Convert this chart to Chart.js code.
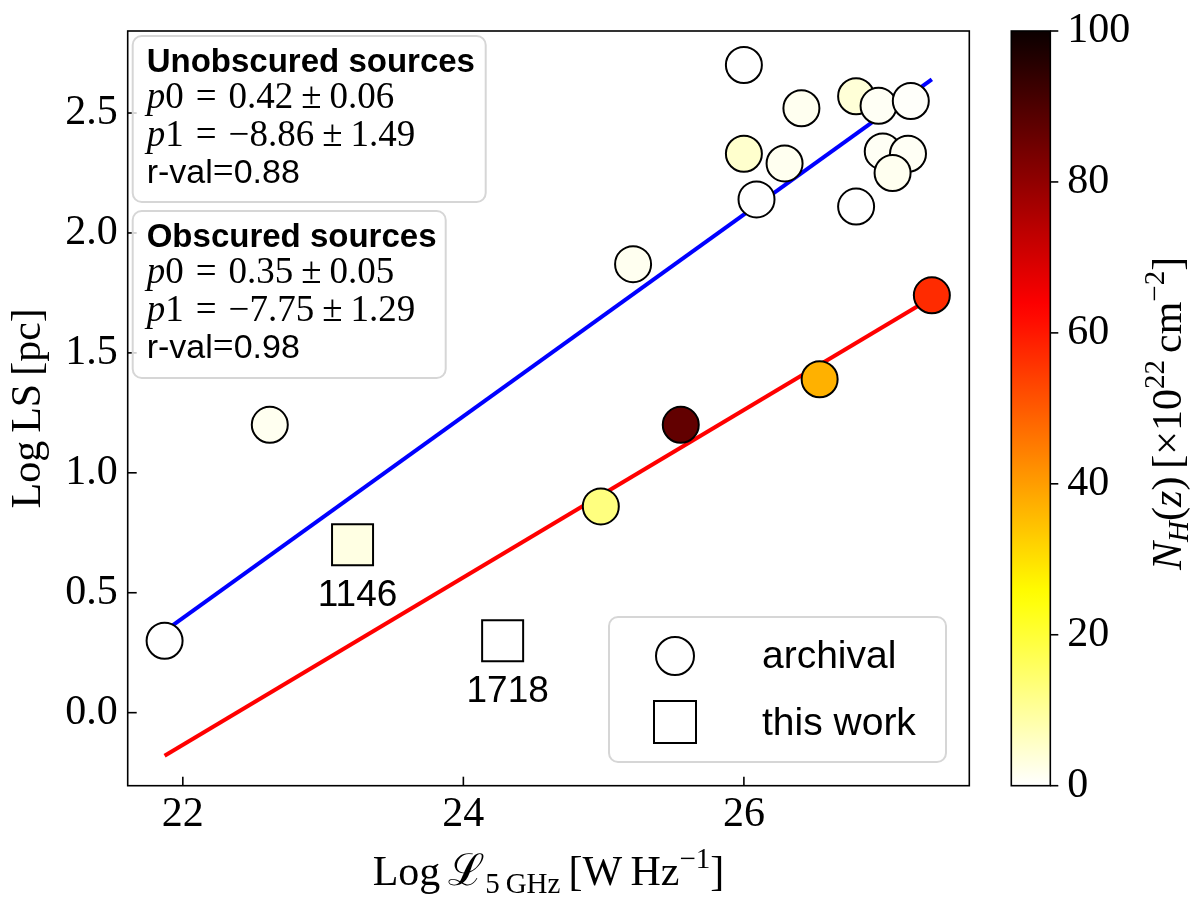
<!DOCTYPE html>
<html>
<head>
<meta charset="utf-8">
<script src="https://cdn.jsdelivr.net/npm/chart.js@4.4.0/dist/chart.umd.min.js"></script>
<style>
  body { margin: 0; background: #fff; }
  canvas { display: block; }
</style>
</head>
<body>
<canvas id="lsChart" width="1200" height="905"></canvas>
<script>
// archival sources: luminosity, linear size, column density
const archivalX  = [26.00, 26.41, 26.80, 26.96, 27.19, 26.00, 26.29, 26.09, 26.99, 27.17, 27.06, 26.80, 25.21, 27.34, 22.62, 21.87, 24.98, 25.55, 26.54];
const archivalY  = [2.70, 2.52, 2.57, 2.53, 2.55, 2.33, 2.29, 2.14, 2.34, 2.33, 2.25, 2.11, 1.87, 1.74, 1.20, 0.30, 0.86, 1.20, 1.39];
const archivalNH = [0, 1.5, 4, 1, 0.5, 5, 1.5, 0, 1, 1, 1.5, 0, 1.5, 57, 1.5, 0, 12.7, 87, 37];

// this work
const workX = [23.21, 24.28];
const workY = [0.70, 0.30];
const workNH = [2.8, 0];
const workLabels = ['1146', '1718'];

// linear fits
const fitX = [21.87, 27.34];
const unobsFitY = [0.34, 2.64];
const obsFitY = [-0.18, 1.73];

const unobsText = ['Unobscured sources', ['0.42', '0.06'], ['\u22128.86', '1.49'], '0.88'];
const obsText = ['Obscured sources', ['0.35', '0.05'], ['\u22127.75', '1.29'], '0.98'];

const xTicks = [22, 24, 26];
const yTicks = [0, 0.5, 1, 1.5, 2, 2.5];
const cbTicks = [0, 20, 40, 60, 80, 100];

// matplotlib hot_r
function hotR(v) {
    const x = 1 - v / 100;
    const r = x < 0.365079 ? 0.0416 + (1 - 0.0416) * x / 0.365079 : 1;
    const g = x < 0.365079 ? 0 : (x < 0.746032 ? (x - 0.365079) / (0.746032 - 0.365079) : 1);
    const b = x < 0.746032 ? 0 : (x - 0.746032) / (1 - 0.746032);
    return 'rgb(' + Math.round(r * 255) + ',' + Math.round(g * 255) + ',' + Math.round(b * 255) + ')';
}

const SERIF = "'Liberation Serif', 'DejaVu Serif', serif";
const SANS = "'Liberation Sans', 'DejaVu Sans', sans-serif";

function drawRich(ctx, x, y, parts) {
    parts.forEach(p => {
        ctx.font = p.f;
        x += p.gap || 0;
        ctx.fillText(p.t, x, y + (p.dy || 0));
        x += ctx.measureText(p.t).width;
    });
    return x;
}
function richWidth(ctx, parts) {
    let w = 0;
    parts.forEach(p => {
        ctx.font = p.f;
        w += (p.gap || 0) + ctx.measureText(p.t).width;
    });
    return w;
}

function roundBox(ctx, x, y, w, h, r) {
    ctx.beginPath();
    ctx.moveTo(x + r, y);
    ctx.arcTo(x + w, y, x + w, y + h, r);
    ctx.arcTo(x + w, y + h, x, y + h, r);
    ctx.arcTo(x, y + h, x, y, r);
    ctx.arcTo(x, y, x + w, y, r);
    ctx.closePath();
    ctx.fillStyle = 'rgba(255,255,255,0.8)';
    ctx.fill();
    ctx.strokeStyle = '#d6d6d6';
    ctx.lineWidth = 2;
    ctx.stroke();
}

function fitBox(ctx, left, top, w, h, lines) {
    roundBox(ctx, left, top, w, h, 9);
    ctx.fillStyle = '#000';
    ctx.textBaseline = 'alphabetic';
    ctx.textAlign = 'left';
    const tx = left + 14;
    ctx.font = 'bold 33px ' + SANS;
    ctx.fillText(lines[0], tx, top + 36);
    const mf = '37px ' + SERIF;
    ['0', '1'].forEach((n, i) => {
        drawRich(ctx, tx, top + 72 + i * 37.5, [
            { t: 'p', f: 'italic ' + mf },
            { t: n, f: mf },
            { t: '=', f: mf, gap: 12 },
            { t: lines[1 + i][0], f: mf, gap: 12 },
            { t: '\u00b1', f: mf, gap: 8 },
            { t: lines[1 + i][1], f: mf, gap: 8 }
        ]);
    });
    drawRich(ctx, tx, top + 147, [
        { t: 'r-val', f: '34px ' + SANS },
        { t: '=', f: mf },
        { t: lines[3], f: '34px ' + SANS }
    ]);
}

function noPad(s) {
    s.paddingTop = 0;
    s.paddingBottom = 0;
    s.paddingLeft = 0;
    s.paddingRight = 0;
}

const decorPlugin = {
    id: 'decor',
    beforeDatasetsDraw(chart) {
        const ctx = chart.ctx;
        const a = chart.chartArea;
        const cb = chart.scales.cb;
        ctx.save();
        // colorbar
        const cbL = a.right + 42, cbW = 39;
        const yTop = cb.getPixelForValue(100), yBot = cb.getPixelForValue(0);
        const grad = ctx.createLinearGradient(0, yBot, 0, yTop);
        for (let i = 0; i <= 50; i++) grad.addColorStop(i / 50, hotR(i * 2));
        ctx.fillStyle = grad;
        ctx.fillRect(cbL, yTop, cbW, yBot - yTop);
        ctx.strokeStyle = '#000';
        ctx.lineWidth = 1.6;
        ctx.strokeRect(cbL, yTop, cbW, yBot - yTop);
        cbTicks.forEach(v => {
            const y = cb.getPixelForValue(v);
            ctx.beginPath();
            ctx.moveTo(cbL + cbW, y);
            ctx.lineTo(cbL + cbW + 8, y);
            ctx.stroke();
        });
        // colorbar title
        ctx.fillStyle = '#000';
        ctx.save();
        ctx.translate(1181, (yTop + yBot) / 2 + 5);
        ctx.rotate(-Math.PI / 2);
        const cbParts = [
            { t: 'N', f: 'italic 42px ' + SERIF },
            { t: 'H', f: 'italic 29px ' + SERIF, dy: 7 },
            { t: '(', f: '42px ' + SERIF },
            { t: 'z', f: 'italic 42px ' + SERIF },
            { t: ')', f: '42px ' + SERIF },
            { t: '[\u00d710', f: '42px ' + SERIF, gap: 8 },
            { t: '22', f: '29px ' + SERIF, dy: -17 },
            { t: 'cm', f: '42px ' + SERIF, gap: 7 },
            { t: '\u22122', f: '29px ' + SERIF, dy: -17 },
            { t: ']', f: '42px ' + SERIF }
        ];
        ctx.textBaseline = 'alphabetic';
        drawRich(ctx, -richWidth(ctx, cbParts) / 2, 0, cbParts);
        ctx.restore();

        // y title
        ctx.save();
        ctx.translate(40, (a.top + a.bottom) / 2);
        ctx.rotate(-Math.PI / 2);
        const yParts = [
            { t: 'Log', f: '42px ' + SERIF },
            { t: 'LS', f: '42px ' + SERIF, gap: 8 },
            { t: '[pc]', f: '42px ' + SERIF, gap: 8 }
        ];
        drawRich(ctx, -richWidth(ctx, yParts) / 2, 0, yParts);
        ctx.restore();

        // x title
        const xParts = [
            { t: 'Log', f: '42px ' + SERIF },
            { t: '\u2112', f: '44px ' + SERIF, gap: 8 },
            { t: '5\u2009GHz', f: '29px ' + SERIF, dy: 8 },
            { t: '[W\u2009Hz', f: '42px ' + SERIF, gap: 8 },
            { t: '\u22121', f: '29px ' + SERIF, dy: -17 },
            { t: ']', f: '42px ' + SERIF }
        ];
        drawRich(ctx, (a.left + a.right) / 2 - richWidth(ctx, xParts) / 2, 885, xParts);
        ctx.restore();
    },
    afterDatasetsDraw(chart) {
        const ctx = chart.ctx;
        const a = chart.chartArea;
        const xs = chart.scales.x, ys = chart.scales.y;
        ctx.save();
        // labels of this work
        ctx.fillStyle = '#000';
        ctx.font = '37px ' + SANS;
        ctx.textAlign = 'center';
        ctx.textBaseline = 'alphabetic';
        workLabels.forEach((lab, i) => {
            ctx.fillText(lab, xs.getPixelForValue(workX[i]) + 5, ys.getPixelForValue(workY[i]) + 61);
        });
        // spines and inward ticks
        ctx.strokeStyle = '#000';
        ctx.lineWidth = 1.6;
        ctx.strokeRect(a.left, a.top, a.right - a.left, a.bottom - a.top);
        xTicks.forEach(v => {
            const x = xs.getPixelForValue(v);
            ctx.beginPath();
            ctx.moveTo(x, a.bottom);
            ctx.lineTo(x, a.bottom - 9);
            ctx.stroke();
        });
        yTicks.forEach(v => {
            const y = ys.getPixelForValue(v);
            ctx.beginPath();
            ctx.moveTo(a.left, y);
            ctx.lineTo(a.left + 9, y);
            ctx.stroke();
        });
        // fit boxes
        fitBox(ctx, a.left + 5, a.top + 5, 353, 166, unobsText);
        fitBox(ctx, a.left + 5, a.top + 180, 313, 167, obsText);
        // legend
        roundBox(ctx, 609, 617, 337, 145, 9);
        ctx.strokeStyle = '#000';
        ctx.lineWidth = 2;
        ctx.fillStyle = '#fff';
        ctx.beginPath();
        ctx.arc(675, 656, 19, 0, Math.PI * 2);
        ctx.fill();
        ctx.stroke();
        ctx.fillRect(654, 701, 42, 42);
        ctx.strokeRect(654, 701, 42, 42);
        ctx.fillStyle = '#000';
        ctx.textAlign = 'left';
        ctx.font = '39px ' + SANS;
        ctx.fillText('archival', 762, 668);
        ctx.fillText('this work', 762, 735);
        ctx.restore();
    }
};

const ctx = document.getElementById('lsChart').getContext('2d');
const lsChart = new Chart(ctx, {
    type: 'scatter',
    data: {
        datasets: [
            {
                label: 'this work',
                data: workX.map((x, i) => ({ x: x, y: workY[i] })),
                pointStyle: 'rect',
                pointRadius: 29,
                pointBackgroundColor: workNH.map(hotR),
                pointBorderColor: '#000',
                pointBorderWidth: 2,
                order: 0
            },
            {
                label: 'archival',
                data: archivalX.map((x, i) => ({ x: x, y: archivalY[i] })),
                pointStyle: 'circle',
                pointRadius: 18,
                pointBackgroundColor: archivalNH.map(hotR),
                pointBorderColor: '#000',
                pointBorderWidth: 2,
                order: 1
            },
            {
                type: 'line',
                label: 'unobscured fit',
                data: fitX.map((x, i) => ({ x: x, y: unobsFitY[i] })),
                borderColor: '#0000ff',
                borderWidth: 4,
                pointRadius: 0,
                order: 2
            },
            {
                type: 'line',
                label: 'obscured fit',
                data: fitX.map((x, i) => ({ x: x, y: obsFitY[i] })),
                borderColor: '#ff0000',
                borderWidth: 4,
                pointRadius: 0,
                order: 3
            }
        ]
    },
    options: {
        responsive: false,
        animation: false,
        events: [],
        layout: { padding: { top: 24.3, left: 0, right: 0, bottom: 0 } },
        plugins: { legend: { display: false }, tooltip: { enabled: false } },
        scales: {
            x: {
                type: 'linear',
                min: 21.607,
                max: 27.607,
                afterBuildTicks: s => { s.ticks = xTicks.map(v => ({ value: v })); },
                afterFit: s => { s.height = 905 - 785.7; noPad(s); },
                grid: { display: false, drawTicks: false },
                border: { display: false },
                ticks: { color: '#000', font: { family: SERIF, size: 42 }, padding: 4, maxRotation: 0 }
            },
            y: {
                type: 'linear',
                min: -0.3045,
                max: 2.842,
                afterBuildTicks: s => { s.ticks = yTicks.map(v => ({ value: v })); },
                afterFit: s => { s.width = 127.7; noPad(s); },
                grid: { display: false, drawTicks: false },
                border: { display: false },
                ticks: { color: '#000', font: { family: SERIF, size: 42 }, padding: 10, callback: v => v.toFixed(1) }
            },
            cb: {
                type: 'linear',
                position: 'right',
                min: 0,
                max: 100,
                afterBuildTicks: s => { s.ticks = cbTicks.map(v => ({ value: v })); },
                afterFit: s => { s.width = 1200 - 969.3; noPad(s); },
                grid: { display: false, drawTicks: false },
                border: { display: false },
                ticks: { color: '#000', font: { family: SERIF, size: 42 }, padding: 98 }
            }
        }
    },
    plugins: [decorPlugin]
});
</script>
</body>
</html>
